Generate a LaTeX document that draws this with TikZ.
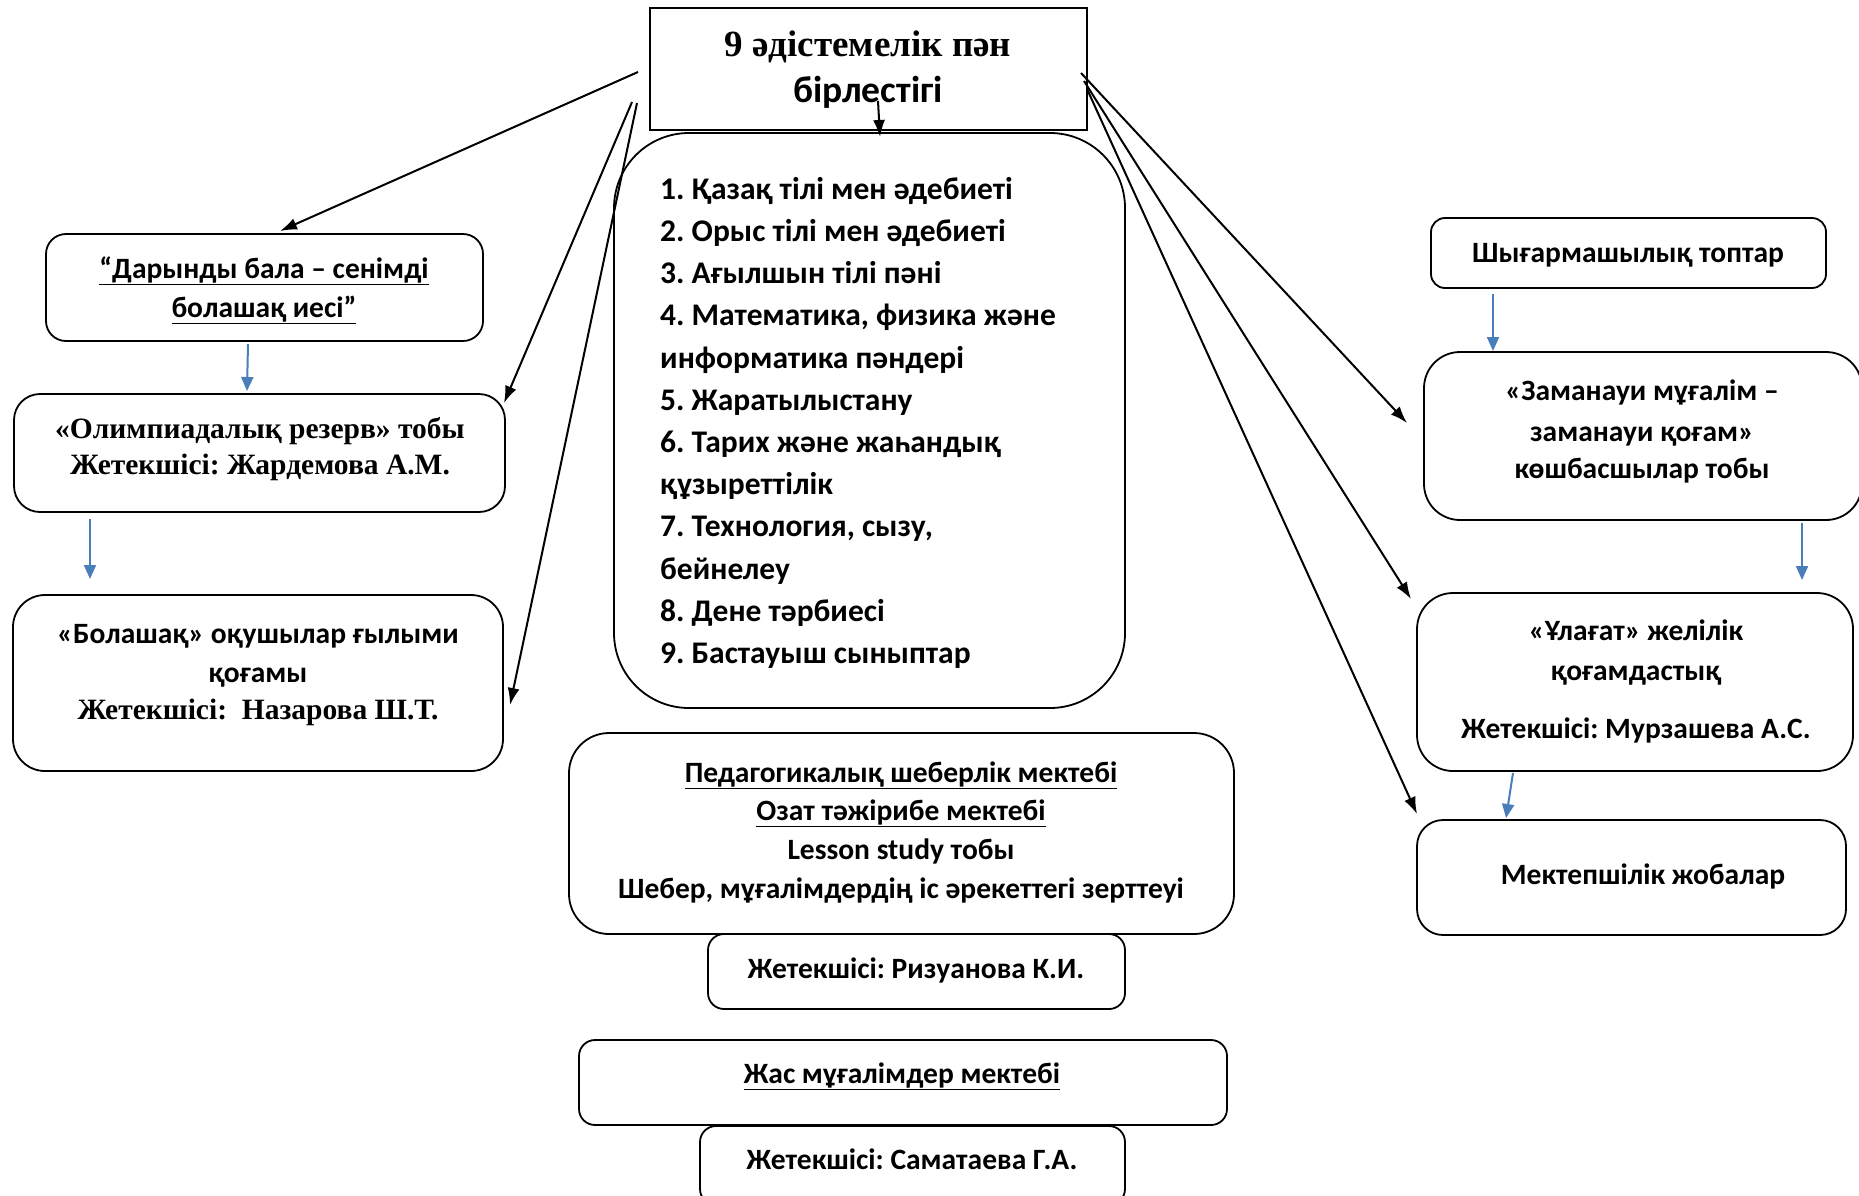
\documentclass[tikz,border=0pt]{standalone}
\usepackage{fontspec}
\setmainfont{Liberation Serif}
\newfontfamily\calb{Carlito}
\usetikzlibrary{arrows.meta,calc}
\definecolor{arrblue}{RGB}{74,126,187}
\frenchspacing
\tikzset{
  box/.style={draw, line width=1.8pt, inner sep=0pt},
  sf/.style={font=\calb\bfseries\fontsize{29.5}{34}\selectfont, inner sep=0pt, anchor=base},
  sfl/.style={font=\calb\bfseries\fontsize{31.5}{36}\selectfont, inner sep=0pt, anchor=base west},
  rm/.style={font=\bfseries\fontsize{29.5}{34}\selectfont, inner sep=0pt, anchor=base},
  blk/.style={-{Latex[length=17pt,width=12pt]}, line width=2pt},
  blu/.style={-{Triangle[length=14pt,width=12pt]}, line width=2pt, draw=arrblue, color=arrblue},
}
\begin{document}
\begin{tikzpicture}[x=1pt,y=-1pt]
\useasboundingbox (0,0) rectangle (1859,1195);

% boxes
\node[box, minimum width=437pt, minimum height=122pt] (top) at (868.5,69) {};
\node[box, rounded corners=75pt, minimum width=511pt, minimum height=575pt] (list) at (869.5,420.5) {};
\node[box, rounded corners=20pt, minimum width=437pt, minimum height=107pt] (dar) at (264.5,287.5) {};
\node[box, rounded corners=26pt, minimum width=491pt, minimum height=118pt] (oly) at (259.5,453) {};
\node[box, rounded corners=32pt, minimum width=490pt, minimum height=176pt] (bol) at (258,683) {};
\node[box, rounded corners=14pt, minimum width=395pt, minimum height=70pt] (shy) at (1628.5,253) {};
\node[box, rounded corners=36pt, minimum width=438pt, minimum height=168pt] (zam) at (1643,436) {};
\node[box, rounded corners=36pt, minimum width=436pt, minimum height=178pt] (ula) at (1635,682) {};
\node[box, rounded corners=26pt, minimum width=429pt, minimum height=115pt] (mek) at (1631.5,877.5) {};
\node[box, rounded corners=40pt, minimum width=665pt, minimum height=201pt] (ped) at (901.5,833.5) {};
\node[box, rounded corners=16pt, minimum width=417pt, minimum height=75pt] (riz) at (916.5,971.5) {};
\node[box, rounded corners=16pt, minimum width=648pt, minimum height=85pt] (zha) at (903,1082.5) {};
\node[box, rounded corners=16pt, minimum width=425pt, minimum height=79pt] (sam) at (912.5,1165.5) {};

% texts
\node[rm, font=\bfseries\fontsize{37}{42}\selectfont] (t1) at (868,56) {9 әдістемелік пән};
\node[sf, font=\calb\bfseries\fontsize{37.5}{42}\selectfont] (t2) at (868,102) {бірлестігі};

\node[sfl] (l1) at (660,199) {1. Қазақ тілі мен әдебиеті};
\node[sfl] (l2) at (660,241) {2. Орыс тілі мен әдебиеті};
\node[sfl] (l3) at (660,283.5) {3. Ағылшын тілі пәні};
\node[sfl] (l4) at (660,325.5) {4. Математика, физика және};
\node[sfl] (l5) at (660,368) {информатика пәндері};
\node[sfl] (l6) at (660,410) {5. Жаратылыстану};
\node[sfl] (l7) at (660,452) {6. Тарих және жаһандық};
\node[sfl] (l8) at (660,494.5) {құзыреттілік};
\node[sfl] (l9) at (660,536.5) {7. Технология, сызу,};
\node[sfl] (l10) at (660,579) {бейнелеу};
\node[sfl] (l11) at (660,621) {8. Дене тәрбиесі};
\node[sfl] (l12) at (660,663) {9. Бастауыш сыныптар};

\node[sf] (d1) at (264,278) {\underline{“Дарынды бала – сенімді}};
\node[sf] (d2) at (264,317) {\underline{болашақ иесі”}};

\node[rm] (o1) at (260,438) {«Олимпиадалық резерв» тобы};
\node[rm] (o2) at (260,474) {Жетекшісі: Жардемова А.М.};

\node[sf] (b1) at (258,643) {«Болашақ» оқушылар ғылыми};
\node[sf] (b2) at (258,682) {қоғамы};
\node[rm] (b3) at (258,719) {Жетекшісі:\ \ Назарова Ш.Т.};

\node[sf] (s1) at (1628,262) {Шығармашылық топтар};

\node[sf] (z1) at (1642,400) {«Заманауи мұғалім –};
\node[sf] (z2) at (1642,441) {заманауи қоғам»};
\node[sf] (z3) at (1642,478) {көшбасшылар тобы};

\node[sf] (u1) at (1636,640) {«Ұлағат» желілік};
\node[sf] (u2) at (1636,680) {қоғамдастық};
\node[sf] (u3) at (1636,738) {Жетекшісі: Мурзашева А.С.};

\node[sf] (m1) at (1643,884) {Мектепшілік жобалар};

\node[sf] (p1) at (901,782) {\underline{Педагогикалық шеберлік мектебі}};
\node[sf] (p2) at (901,820) {\underline{Озат тәжірибе мектебі}};
\node[sf] (p3) at (901,859) {Lesson study тобы};
\node[sf] (p4) at (901,898) {Шебер, мұғалімдердің іс әрекеттегі зерттеуі};

\node[sf] (r1) at (916,978) {Жетекшісі: Ризуанова К.И.};
\node[sf] (j1) at (902,1083) {\underline{Жас мұғалімдер мектебі}};
\node[sf] (c1) at (912,1169) {Жетекшісі: Саматаева Г.А.};

% connector end points
\coordinate (topL1) at (638,72);
\coordinate (topL2) at (632,102);
\coordinate (topL3) at (637,103);
\coordinate (topC) at (878,101);
\coordinate (topR1) at (1081,73);
\coordinate (topR2) at (1084,81);
\coordinate (topR3) at (1087,89);
\coordinate (darT) at (280,231);
\coordinate (olyR) at (504,403);
\coordinate (bolR) at (510,705);
\coordinate (listT) at (880,137);
\coordinate (zamL) at (1407,423);
\coordinate (ulaL) at (1411,599);
\coordinate (mekL) at (1417,814);
\coordinate (darB) at (248,344);
\coordinate (olyT) at (247,391);
\coordinate (olyB) at (90,519);
\coordinate (bolT) at (90,579);
\coordinate (shyB) at (1493,294);
\coordinate (zamT) at (1493,351);
\coordinate (zamB) at (1802,523);
\coordinate (ulaT) at (1802,580);
\coordinate (ulaB) at (1513,773);
\coordinate (mekT) at (1506,818);

% black arrows
\draw[blk] (topL1) -- (darT);
\draw[blk] (topL2) -- (olyR);
\draw[blk] (topL3) -- (bolR);
\draw[blk] (topC) -- (listT);
\draw[blk] (topR1) -- (zamL);
\draw[blk] (topR2) -- (ulaL);
\draw[blk] (topR3) -- (mekL);

% blue arrows
\draw[blu] (darB) -- (olyT);
\draw[blu] (olyB) -- (bolT);
\draw[blu] (shyB) -- (zamT);
\draw[blu] (zamB) -- (ulaT);
\draw[blu] (ulaB) -- (mekT);
\end{tikzpicture}
\end{document}
